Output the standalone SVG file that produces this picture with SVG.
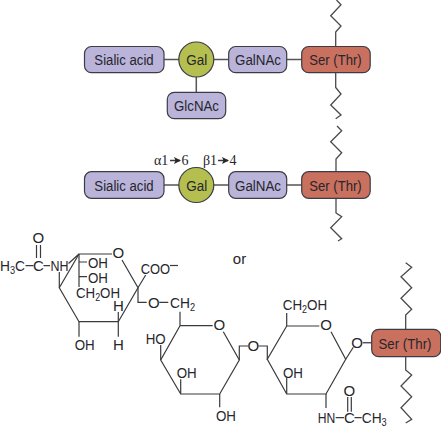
<svg xmlns="http://www.w3.org/2000/svg" width="441" height="431" viewBox="0 0 441 431">
<style>
text{font-family:"Liberation Sans",Arial,sans-serif;font-size:15px;fill:#26262c}
.n{font-size:15.5px}
.m{text-anchor:middle}
.sm{font-size:10px}
.g{font-family:"Liberation Serif","Times New Roman",serif;font-size:14px}
.box{stroke:#3c3c44;stroke-width:1.2}
.p{fill:#bab4da}.r{fill:#c9705f}.o{fill:#b5bf50}
.l{fill:none;stroke:#4a4a4e;stroke-width:1.3;stroke-linejoin:miter}
.c{fill:none;stroke:#55555a;stroke-width:1.5}
.b{fill:none;stroke:#3a3a3e;stroke-width:1.2}
</style>
<defs>
<marker id="ah" markerUnits="userSpaceOnUse" markerWidth="8" markerHeight="8" refX="6" refY="3.500" orient="auto"><path d="M0 0L7 3.500L0 7L1.500 3.500z" fill="#26262c"/></marker>
</defs>
<g id="connectors">
<path class="c" d="M164 59.500H301.700M196.300 77V92.300M164 185H301.700"/>
<path class="l" d="M335.700 46.500V32L341 26L330.700 15.700L341 4.700L336.500 0"/>
<path class="l" d="M335.700 72.700V87.500L341 94L330.700 105L341 115L335.700 118.700"/>
<path class="l" d="M337 126L341.700 130.700L330.700 141.700L341.700 152.700L336 159V171.700"/>
<path class="l" d="M336 198.300V213L341.700 216.700L330.700 227.700L341.700 238.700L338 241"/>
<path class="l" d="M405.700 329.300V315L411.700 309.300L401 298.300L411.700 287.700L401 276.700L411.700 267.300L405.700 262.700"/>
<path class="l" d="M405.700 356.700V370L411.700 375L401 386L411.700 396.700L401 407.700L411.700 419.300L405.700 423"/>
<path class="c" d="M362.700 342.700H371.700"/>
</g>
<g id="sialic-1"><rect class="box p" x="84.500" y="46.500" width="79.500" height="26.200" rx="7"/><text class="m n" x="124" y="65" textLength="59.300" lengthAdjust="spacingAndGlyphs">Sialic acid</text></g>
<g id="gal-1"><circle class="box o" cx="196.300" cy="59.500" r="17.500"/><text class="m n" x="196.800" y="65" textLength="21" lengthAdjust="spacingAndGlyphs">Gal</text></g>
<g id="galnac-1"><rect class="box p" x="228.700" y="46.500" width="58" height="26.200" rx="7"/><text class="m n" x="258" y="65" textLength="46" lengthAdjust="spacingAndGlyphs">GalNAc</text></g>
<g id="ser-1"><rect class="box r" x="301.700" y="46.500" width="68.500" height="26.200" rx="7"/><text class="m n" x="335.500" y="65" textLength="52.300" lengthAdjust="spacingAndGlyphs">Ser (Thr)</text></g>
<g id="glcnac"><rect class="box p" x="167.300" y="92.300" width="58.400" height="26.400" rx="7"/><text class="m n" x="196.500" y="111" textLength="45" lengthAdjust="spacingAndGlyphs">GlcNAc</text></g>
<g id="sialic-2"><rect class="box p" x="84.500" y="171.700" width="79.500" height="26.600" rx="7"/><text class="m n" x="124" y="190.700" textLength="59.300" lengthAdjust="spacingAndGlyphs">Sialic acid</text></g>
<g id="gal-2"><circle class="box o" cx="196.300" cy="185" r="17.500"/><text class="m n" x="196.800" y="190.700" textLength="21" lengthAdjust="spacingAndGlyphs">Gal</text></g>
<g id="galnac-2"><rect class="box p" x="228.700" y="171.700" width="58" height="26.600" rx="7"/><text class="m n" x="258" y="190.700" textLength="46" lengthAdjust="spacingAndGlyphs">GalNAc</text></g>
<g id="ser-2"><rect class="box r" x="301.700" y="171.700" width="68.500" height="26.600" rx="7"/><text class="m n" x="335.500" y="190.700" textLength="52.300" lengthAdjust="spacingAndGlyphs">Ser (Thr)</text></g>
<g id="ser-3"><rect class="box r" x="371.700" y="329.300" width="69" height="27.400" rx="7"/><text class="m n" x="405" y="348.500" textLength="53" lengthAdjust="spacingAndGlyphs">Ser (Thr)</text></g>
<g id="linkage-labels">
<text class="g" x="154" y="165">α1</text><path class="b" style="stroke-width:1.5" marker-end="url(#ah)" d="M170 160.500H180"/><text class="g" x="181.500" y="165">6</text>
<text class="g" x="203" y="165">β1</text><path class="b" style="stroke-width:1.5" marker-end="url(#ah)" d="M218 160.500H228"/><text class="g" x="229.500" y="165">4</text>
</g>
<text class="m" x="239.500" y="264.300">or</text>
<g id="structure-bonds">
<path class="b" d="M112 254H79L59.300 287.700L79 321.700H118.300L138 287.700L122 260"/>
<path class="b" d="M25.500 265.700H33.500M43.500 265.700H50M36.500 245V258M40.500 245V258M59.300 272V287.700M68.500 263.500L79 254"/>
<path class="b" d="M79 254V287M79 262H87M79 276.700H87"/>
<path class="b" d="M138 287.700L145.700 275M138 287.700V302.300H146.700M159.300 302.300H168.300"/>
<path class="b" d="M118.300 312V336.700M79 321.700V336.700"/>
<path class="b" d="M180 311.700V325.700H212.700M223.300 331.700L239.300 360L219.700 394H180.700L160.700 360L180 325.700"/>
<path class="b" d="M160.700 345V360M180.700 379.300V394M219.700 394V407.300"/>
<path class="b" d="M239.300 360V346H248.300M258.300 346H267.300V360"/>
<path class="b" d="M319.300 326H286.700L267.300 359.300L286.700 394H326L345.700 359.300L331 331.700"/>
<path class="b" d="M286.700 313V326M286.700 378V394M326 394V408M345.700 359.300L353.300 347.300"/>
<path class="b" d="M335.700 417.700H344M354.500 417.700H361.700M347.700 397V411.700M351.300 397V411.700"/>
<path class="b" d="M170 265.500H178"/>
</g>
<g id="structure-labels">
<text x="0" y="271" textLength="25" lengthAdjust="spacingAndGlyphs">H<tspan class="sm" dy="3">3</tspan><tspan dy="-3">C</tspan></text>
<text class="m" x="38.300" y="271">C</text>
<text class="m" x="38.300" y="243">O</text>
<text x="50.500" y="271" textLength="18" lengthAdjust="spacingAndGlyphs">NH</text>
<text class="m" x="118.300" y="257.500">O</text>
<text x="88" y="267.500" textLength="20" lengthAdjust="spacingAndGlyphs">OH</text>
<text x="88" y="282.500" textLength="20" lengthAdjust="spacingAndGlyphs">OH</text>
<text x="76" y="298" textLength="44" lengthAdjust="spacingAndGlyphs">CH<tspan class="sm" dy="3">2</tspan><tspan dy="-3">OH</tspan></text>
<text x="140.700" y="274" textLength="29.500" lengthAdjust="spacingAndGlyphs">COO</text>
<text class="m" x="153.800" y="307.500">O</text>
<text x="170" y="307.500" textLength="25" lengthAdjust="spacingAndGlyphs">CH<tspan class="sm" dy="3">2</tspan></text>
<text class="m" x="118.300" y="311">H</text>
<text class="m" x="118.300" y="349.500">H</text>
<text x="74.700" y="349.500" textLength="20" lengthAdjust="spacingAndGlyphs">OH</text>
<text class="m" x="219.300" y="329.500">O</text>
<text x="145.700" y="344" textLength="20" lengthAdjust="spacingAndGlyphs">HO</text>
<text x="176.700" y="377.500" textLength="20" lengthAdjust="spacingAndGlyphs">OH</text>
<text x="216" y="421" textLength="20" lengthAdjust="spacingAndGlyphs">OH</text>
<text class="m" x="253.300" y="351">O</text>
<text class="m" x="326" y="329.500">O</text>
<text x="282.700" y="309.500" textLength="44.500" lengthAdjust="spacingAndGlyphs">CH<tspan class="sm" dy="3">2</tspan><tspan dy="-3">OH</tspan></text>
<text x="283" y="377.500" textLength="20" lengthAdjust="spacingAndGlyphs">OH</text>
<text x="317.700" y="423" textLength="17.500" lengthAdjust="spacingAndGlyphs">HN</text>
<text class="m" x="349.300" y="423">C</text>
<text x="361.700" y="423" textLength="25" lengthAdjust="spacingAndGlyphs">CH<tspan class="sm" dy="3">3</tspan></text>
<text class="m" x="349.300" y="395.500">O</text>
<text class="m" x="357" y="347.500">O</text>
</g>
</svg>
